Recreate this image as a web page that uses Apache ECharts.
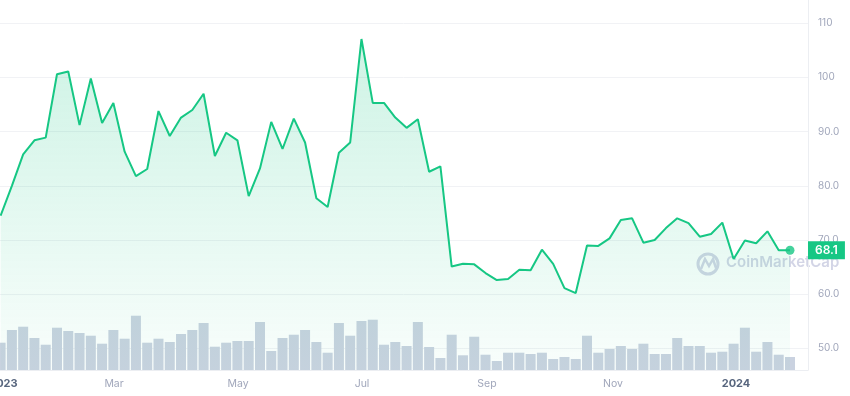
<!DOCTYPE html>
<html><head><meta charset="utf-8">
<script src="https://cdn.jsdelivr.net/npm/echarts@6/dist/echarts.min.js"></script>
<style>html,body{margin:0;padding:0;background:#fff}#c{width:850px;height:396px}</style>
</head><body><div id="c"></div>
<script>
// Price series (one point per sample, left to right)
const prices = [74.5, 80.0, 85.8, 88.4, 88.9, 100.6, 101.1, 91.2, 99.8, 91.6,
  95.3, 86.3, 81.8, 83.1, 93.8, 89.2, 92.6, 94.0, 97.0, 85.5,
  89.8, 88.4, 78.1, 83.2, 91.8, 86.8, 92.4, 88.0, 77.7, 76.1,
  86.1, 88.0, 107.1, 95.3, 95.3, 92.6, 90.7, 92.3, 82.6, 83.6,
  65.1, 65.6, 65.5, 63.9, 62.6, 62.8, 64.5, 64.4, 68.2, 65.6,
  61.1, 60.2, 69.0, 68.9, 70.3, 73.7, 74.0, 69.5, 70.0, 72.2,
  74.0, 73.1, 70.6, 71.1, 73.2, 66.5, 69.9, 69.4, 71.6, 68.1, 68.1];
// Volume series (relative units)
const volumes = [27.3, 40, 43.3, 32, 25.3, 42.3, 39, 37, 34.3, 26.3,
  40, 31.3, 54.3, 27.3, 31.3, 28, 36, 40, 47, 23.3,
  27.3, 29, 29, 48, 19, 32, 35.3, 40, 28, 17.3,
  47, 34.3, 49, 50.3, 25.3, 28, 24, 48, 23, 12,
  35.3, 14.7, 33.3, 15.3, 9, 17.3, 17.3, 16, 17.3, 11,
  13, 11, 34.3, 17.3, 21, 24, 21, 26.3, 16, 16,
  32, 24, 24, 17.3, 18.3, 26.3, 42.3, 18.3, 28, 15.3, 13];
// X tick labels and their positions (in sample-index units)
const tickLabels = ['2023', 'Mar', 'May', 'Jul', 'Sep', 'Nov', '2024'];
const tickPositions = [0.25, 10.06, 21.05, 32.05, 43.13, 54.30, 65.21];
// Price axis ticks
const priceTicks = [50, 60, 70, 80, 90, 100, 110];

const chart = echarts.init(document.getElementById('c'), null, {renderer: 'canvas'});
const lineData = prices.map((v, i) => [i, v]);
const volData = volumes.map((v, i) => [i, v]);
const last = prices.length - 1;
const green = '#16c784';

const option = {
  animation: false,
  textStyle: {fontFamily: 'Inter'},
  grid: {left: -20, right: 42, top: 0, bottom: 26, containLabel: false, outerBoundsMode: 'none'},
  xAxis: {
    type: 'value', min: -1.827, max: 71.597,
    axisLine: {show: true, onZero: false, lineStyle: {color: '#eceef2'}},
    axisTick: {show: false, customValues: tickPositions},
    splitLine: {show: false},
    axisLabel: {
      customValues: tickPositions, margin: 8, color: '#a1a7bb', fontSize: 10.5, fontFamily: 'Inter',
      formatter: v => {
        const k = tickPositions.findIndex(p => Math.abs(p - v) < 1e-6);
        const t = k >= 0 ? tickLabels[k] : '';
        return /^\d{4}$/.test(t) ? '{yr|' + t + '}' : t;
      },
      rich: {yr: {fontWeight: 700, color: '#58667e', fontSize: 11, fontFamily: 'Inter'}}
    }
  },
  yAxis: [{
    type: 'value', position: 'right', min: 46, max: 114.3,
    axisLine: {show: true, onZero: false, lineStyle: {color: '#eceef2'}},
    axisTick: {show: false, customValues: priceTicks},
    axisLabel: {
      customValues: priceTicks, margin: 10, color: '#a1a7bb', fontSize: 10, fontFamily: 'Inter',
      formatter: v => v >= 100 ? String(v) : v.toFixed(1)
    },
    splitLine: {show: true, lineStyle: {color: '#f1f2f5', width: 1}}
  }, {
    type: 'value', min: 0, max: 370, show: false,
    axisLine: {show: false, onZero: false}, splitLine: {show: false}
  }],
  graphic: [
    {type: 'circle', z: 0, shape: {cx: 708, cy: 264, r: 10}, style: {fill: 'none', stroke: '#d3d5e6', lineWidth: 3}},
    {type: 'polyline', z: 0, shape: {points: [[701, 269], [705, 259], [709, 266], [713, 259], [716, 268]]}, style: {fill: 'none', stroke: '#d3d5e6', lineWidth: 2.5}},
    {type: 'text', z: 0, left: 726, top: 255, style: {text: 'CoinMarketCap', font: '600 15px Inter', fill: '#d3d5e6'}}
  ],
  series: [{
    type: 'bar', yAxisIndex: 1, data: volData, barWidth: 10, z: 1,
    itemStyle: {color: '#cad2e0'}
  }, {
    type: 'line', data: lineData, showSymbol: false, z: 3,
    lineStyle: {color: green, width: 2},
    areaStyle: {
      color: new echarts.graphic.LinearGradient(0, 0, 0, 1, [
        {offset: 0, color: 'rgba(22,199,132,0.30)'},
        {offset: 1, color: 'rgba(22,199,132,0.04)'}
      ])
    },
    endLabel: {
      show: true, distance: 18, formatter: p => p.value[1].toFixed(1),
      backgroundColor: green, color: '#fff', fontSize: 12, fontWeight: 600, fontFamily: 'Inter',
      padding: [3, 7, 3, 7]
    }
  }, {
    type: 'scatter', data: [[last, prices[last]]], symbolSize: 9, z: 4,
    itemStyle: {color: green}
  }]
};
chart.setOption(option);
</script>
</body></html>
